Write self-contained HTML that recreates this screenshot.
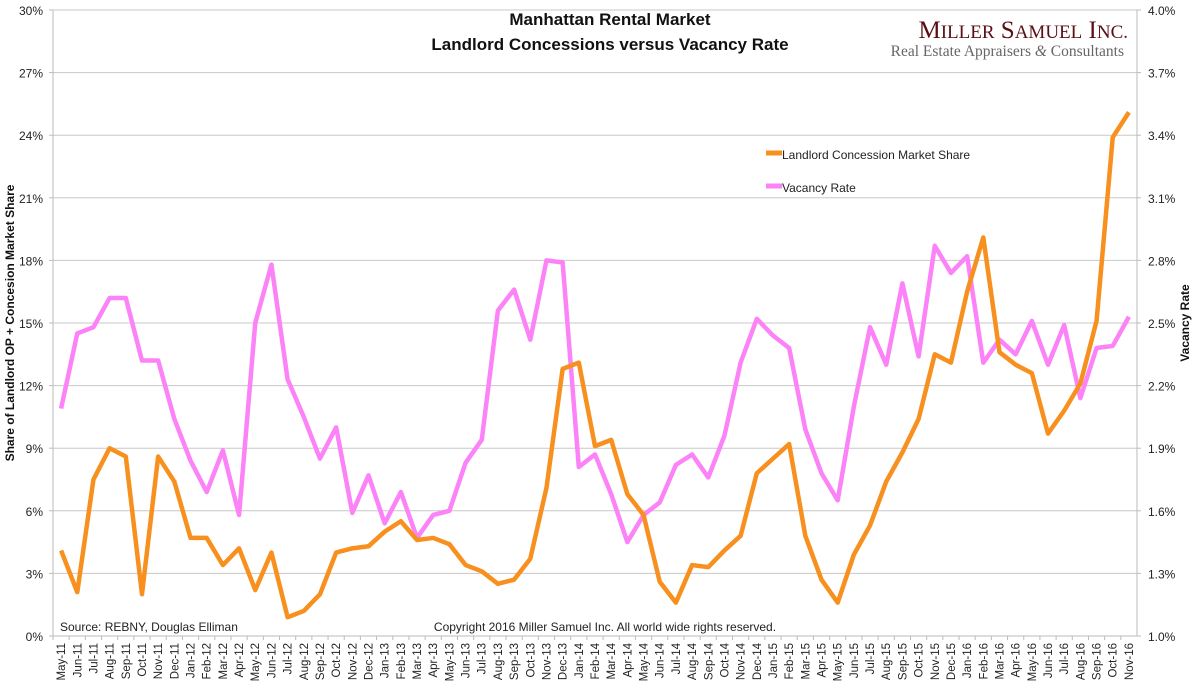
<!DOCTYPE html>
<html><head><meta charset="utf-8"><style>
body{margin:0;background:#fff;}
svg{display:block;font-family:"Liberation Sans",sans-serif;}
</style></head><body>
<svg id="chart" width="1200" height="698">
<g id="grid"></g>
<g id="axes"></g>
<g id="series"></g>
<text x="610" y="25" text-anchor="middle" font-size="17" font-weight="bold" fill="#111">Manhattan Rental Market</text>
<text x="610" y="50" text-anchor="middle" font-size="17" font-weight="bold" fill="#111">Landlord Concessions versus Vacancy Rate</text>
<text x="1128" y="38" text-anchor="end" font-family="Liberation Serif,serif" font-size="25" fill="#5a0f14">M<tspan font-size="19">ILLER</tspan> S<tspan font-size="19">AMUEL</tspan> I<tspan font-size="19">NC.</tspan></text>
<text x="1124" y="56" text-anchor="end" font-family="Liberation Serif,serif" font-size="15.5" fill="#666">Real Estate Appraisers <tspan font-style="italic">&amp;</tspan> Consultants</text>
<g>
<line x1="766" y1="153" x2="782" y2="153" stroke="#f7901e" stroke-width="5"/>
<text x="782" y="159" font-size="12" fill="#222">Landlord Concession Market Share</text>
<line x1="766" y1="186" x2="782" y2="186" stroke="#fb83f7" stroke-width="5"/>
<text x="782" y="192" font-size="12" fill="#222">Vacancy Rate</text>
</g>
<text x="60" y="631" font-size="12" fill="#222">Source: REBNY, Douglas Elliman</text>
<text x="605" y="631" text-anchor="middle" font-size="12" fill="#222">Copyright 2016 Miller Samuel Inc.  All world wide rights reserved.</text>
<text transform="translate(14,323) rotate(-90)" text-anchor="middle" font-size="12" font-weight="bold" fill="#111">Share of Landlord OP + Concesion Market Share</text>
<text transform="translate(1189,323) rotate(-90)" text-anchor="middle" font-size="12" font-weight="bold" fill="#111">Vacancy Rate</text>
</svg>
<script>
const months=["May-11","Jun-11","Jul-11","Aug-11","Sep-11","Oct-11","Nov-11","Dec-11","Jan-12","Feb-12","Mar-12","Apr-12","May-12","Jun-12","Jul-12","Aug-12","Sep-12","Oct-12","Nov-12","Dec-12","Jan-13","Feb-13","Mar-13","Apr-13","May-13","Jun-13","Jul-13","Aug-13","Sep-13","Oct-13","Nov-13","Dec-13","Jan-14","Feb-14","Mar-14","Apr-14","May-14","Jun-14","Jul-14","Aug-14","Sep-14","Oct-14","Nov-14","Dec-14","Jan-15","Feb-15","Mar-15","Apr-15","May-15","Jun-15","Jul-15","Aug-15","Sep-15","Oct-15","Nov-15","Dec-15","Jan-16","Feb-16","Mar-16","Apr-16","May-16","Jun-16","Jul-16","Aug-16","Sep-16","Oct-16","Nov-16"];
const concession=[4.1,2.1,7.5,9.0,8.6,2.0,8.6,7.4,4.7,4.7,3.4,4.2,2.2,4.0,0.9,1.2,2.0,4.0,4.2,4.3,5.0,5.5,4.6,4.7,4.4,3.4,3.1,2.5,2.7,3.7,7.1,12.8,13.1,9.1,9.4,6.8,5.8,2.6,1.6,3.4,3.3,4.1,4.8,7.8,8.5,9.2,4.8,2.7,1.6,3.9,5.3,7.4,8.8,10.4,13.5,13.1,16.5,19.1,13.6,13.0,12.6,9.7,10.8,12.1,15.1,23.9,25.1];
const vacancy=[2.09,2.45,2.48,2.62,2.62,2.32,2.32,2.04,1.84,1.69,1.89,1.58,2.50,2.78,2.23,2.05,1.85,2.00,1.59,1.77,1.54,1.69,1.47,1.58,1.60,1.83,1.94,2.56,2.66,2.42,2.80,2.79,1.81,1.87,1.68,1.45,1.58,1.64,1.82,1.87,1.76,1.96,2.31,2.52,2.44,2.38,1.99,1.78,1.65,2.10,2.48,2.30,2.69,2.34,2.87,2.74,2.82,2.31,2.42,2.35,2.51,2.30,2.49,2.14,2.38,2.39,2.53];
const leftTicks=[0,3,6,9,12,15,18,21,24,27,30];
const rightTicks=["1.0","1.3","1.6","1.9","2.2","2.5","2.8","3.1","3.4","3.7","4.0"];

const NS="http://www.w3.org/2000/svg";
const X0=53,X1=1137,Y0=636,Y1=10;
const step=(X1-X0)/months.length;
const xPos=i=>X0+step*(i+0.5);
const yL=v=>Y0-(v-0)/30*(Y0-Y1);
const yR=v=>Y0-(v-1)/3*(Y0-Y1);
function mk(tag,attrs,parent){const e=document.createElementNS(NS,tag);for(const k in attrs)e.setAttribute(k,attrs[k]);parent.appendChild(e);return e;}
const grid=document.getElementById('grid'),axes=document.getElementById('axes'),series=document.getElementById('series');
leftTicks.forEach((t,i)=>{
  const y=yL(t);
  if(t>0){const g=mk('line',{x1:X0,x2:X1,y1:y,y2:y,stroke:'#c8c8c8','stroke-width':1},grid);
  
  }
  const tl=mk('text',{x:X0-10,y:y+5,'text-anchor':'end','font-size':12,fill:'#222'},axes);
  tl.textContent=t+'%';
  
  
  const tr=mk('text',{x:X1+11,y:y+5,'font-size':12,fill:'#222'},axes);
  tr.textContent=rightTicks[i]+'%';
  
  
  const m1=mk('line',{x1:X0-4,x2:X0,y1:y,y2:y,stroke:'#bbb'},axes);
  
  
  const m2=mk('line',{x1:X1,x2:X1+4,y1:y,y2:y,stroke:'#bbb'},axes);
  
  
});
let a=mk('line',{x1:X0,x2:X0,y1:Y1,y2:Y0,stroke:'#bbb'},axes);


a=mk('line',{x1:X1,x2:X1,y1:Y1,y2:Y0,stroke:'#bbb'},axes);


a=mk('line',{x1:X0,x2:X1,y1:Y0,y2:Y0,stroke:'#bbb'},axes);


months.forEach((m,i)=>{
  const tk=mk('line',{x1:X0+step*i,x2:X0+step*i,y1:Y0,y2:Y0+4,stroke:'#bbb'},axes);
  
  
  const x=xPos(i)+4;
  const t=mk('text',{transform:`translate(${x},643) rotate(-90)`,'text-anchor':'end','font-size':11.5,fill:'#222'},axes);
  t.textContent=m;
  
  
});
const pv=mk('polyline',{points:vacancy.map((v,i)=>xPos(i)+','+yR(v)).join(' '),fill:'none',stroke:'#fb83f7','stroke-width':4.5,'stroke-linejoin':'round'},series);


const pc=mk('polyline',{points:concession.map((v,i)=>xPos(i)+','+yL(v)).join(' '),fill:'none',stroke:'#f7901e','stroke-width':4.5,'stroke-linejoin':'round'},series);


</script>
</body></html>
